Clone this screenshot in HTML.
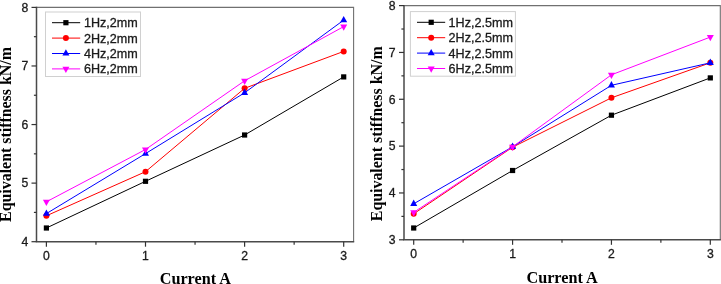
<!DOCTYPE html>
<html><head><meta charset="utf-8"><style>
html,body{margin:0;padding:0;background:#fff;}
body{width:721px;height:284px;overflow:hidden;}
svg{display:block;will-change:transform;filter:blur(0.35px);}
.tk{font-family:"Liberation Sans",sans-serif;font-size:12.2px;fill:#1a1a1a;stroke:#1a1a1a;stroke-width:0.3px;}
.lg{font-family:"Liberation Sans",sans-serif;font-size:12.6px;fill:#1a1a1a;stroke:#1a1a1a;stroke-width:0.3px;}
.tt{font-family:"Liberation Serif",serif;font-size:16.0px;font-weight:bold;fill:#000;}
</style></head><body>
<svg width="721" height="284" viewBox="0 0 721 284">
<rect width="721" height="284" fill="#fff"/>
<path d="M36.50,7.40 H353.60 V241.70" fill="none" stroke="#707070" stroke-width="1.1"/>
<path d="M36.50,6.80 V241.70 H354.20" fill="none" stroke="#4a4a4a" stroke-width="1.5"/>
<line x1="31.50" y1="241.70" x2="36.50" y2="241.70" stroke="#333333" stroke-width="1.2"/>
<text x="28.20" y="246.00" text-anchor="end" class="tk">4</text>
<line x1="33.90" y1="212.41" x2="36.50" y2="212.41" stroke="#333333" stroke-width="1.2"/>
<line x1="31.50" y1="183.12" x2="36.50" y2="183.12" stroke="#333333" stroke-width="1.2"/>
<text x="28.20" y="187.43" text-anchor="end" class="tk">5</text>
<line x1="33.90" y1="153.84" x2="36.50" y2="153.84" stroke="#333333" stroke-width="1.2"/>
<line x1="31.50" y1="124.55" x2="36.50" y2="124.55" stroke="#333333" stroke-width="1.2"/>
<text x="28.20" y="128.85" text-anchor="end" class="tk">6</text>
<line x1="33.90" y1="95.26" x2="36.50" y2="95.26" stroke="#333333" stroke-width="1.2"/>
<line x1="31.50" y1="65.97" x2="36.50" y2="65.97" stroke="#333333" stroke-width="1.2"/>
<text x="28.20" y="70.27" text-anchor="end" class="tk">7</text>
<line x1="33.90" y1="36.69" x2="36.50" y2="36.69" stroke="#333333" stroke-width="1.2"/>
<line x1="31.50" y1="7.40" x2="36.50" y2="7.40" stroke="#333333" stroke-width="1.2"/>
<text x="28.20" y="11.70" text-anchor="end" class="tk">8</text>
<line x1="46.40" y1="241.70" x2="46.40" y2="246.70" stroke="#333333" stroke-width="1.2"/>
<text x="46.40" y="259.90" text-anchor="middle" class="tk">0</text>
<line x1="95.95" y1="241.70" x2="95.95" y2="244.70" stroke="#333333" stroke-width="1.2"/>
<line x1="145.50" y1="241.70" x2="145.50" y2="246.70" stroke="#333333" stroke-width="1.2"/>
<text x="145.50" y="259.90" text-anchor="middle" class="tk">1</text>
<line x1="195.05" y1="241.70" x2="195.05" y2="244.70" stroke="#333333" stroke-width="1.2"/>
<line x1="244.60" y1="241.70" x2="244.60" y2="246.70" stroke="#333333" stroke-width="1.2"/>
<text x="244.60" y="259.90" text-anchor="middle" class="tk">2</text>
<line x1="294.15" y1="241.70" x2="294.15" y2="244.70" stroke="#333333" stroke-width="1.2"/>
<line x1="343.70" y1="241.70" x2="343.70" y2="246.70" stroke="#333333" stroke-width="1.2"/>
<text x="343.70" y="259.90" text-anchor="middle" class="tk">3</text>
<polyline points="46.40,228.00 145.50,181.30 244.60,135.00 343.70,76.90" fill="none" stroke="#000000" stroke-width="1.0"/>
<rect x="43.80" y="225.40" width="5.2" height="5.2" fill="#000000"/>
<rect x="142.90" y="178.70" width="5.2" height="5.2" fill="#000000"/>
<rect x="242.00" y="132.40" width="5.2" height="5.2" fill="#000000"/>
<rect x="341.10" y="74.30" width="5.2" height="5.2" fill="#000000"/>
<polyline points="46.40,215.80 145.50,171.70 244.60,88.30 343.70,51.40" fill="none" stroke="#ff0000" stroke-width="1.0"/>
<circle cx="46.40" cy="215.80" r="3.0" fill="#ff0000"/>
<circle cx="145.50" cy="171.70" r="3.0" fill="#ff0000"/>
<circle cx="244.60" cy="88.30" r="3.0" fill="#ff0000"/>
<circle cx="343.70" cy="51.40" r="3.0" fill="#ff0000"/>
<polyline points="46.40,213.60 145.50,153.60 244.60,92.80 343.70,20.10" fill="none" stroke="#0000ff" stroke-width="1.0"/>
<polygon points="42.90,215.70 49.90,215.70 46.40,209.40" fill="#0000ff"/>
<polygon points="142.00,155.70 149.00,155.70 145.50,149.40" fill="#0000ff"/>
<polygon points="241.10,94.90 248.10,94.90 244.60,88.60" fill="#0000ff"/>
<polygon points="340.20,22.20 347.20,22.20 343.70,15.90" fill="#0000ff"/>
<polyline points="46.40,201.80 145.50,149.50 244.60,80.80 343.70,26.60" fill="none" stroke="#ff00ff" stroke-width="1.0"/>
<polygon points="42.90,199.70 49.90,199.70 46.40,206.00" fill="#ff00ff"/>
<polygon points="142.00,147.40 149.00,147.40 145.50,153.70" fill="#ff00ff"/>
<polygon points="241.10,78.70 248.10,78.70 244.60,85.00" fill="#ff00ff"/>
<polygon points="340.20,24.50 347.20,24.50 343.70,30.80" fill="#ff00ff"/>
<rect x="45.50" y="12.00" width="95.00" height="64.50" fill="#fff" stroke="#d0d0d0" stroke-width="1"/>
<line x1="52.00" y1="22.70" x2="80.20" y2="22.70" stroke="#000000" stroke-width="1.0"/>
<rect x="63.30" y="20.10" width="5.2" height="5.2" fill="#000000"/>
<text x="83.90" y="27.10" class="lg">1Hz,2mm</text>
<line x1="52.00" y1="38.10" x2="80.20" y2="38.10" stroke="#ff0000" stroke-width="1.0"/>
<circle cx="65.90" cy="38.10" r="3.0" fill="#ff0000"/>
<text x="83.90" y="42.50" class="lg">2Hz,2mm</text>
<line x1="52.00" y1="53.50" x2="80.20" y2="53.50" stroke="#0000ff" stroke-width="1.0"/>
<polygon points="62.40,55.60 69.40,55.60 65.90,49.30" fill="#0000ff"/>
<text x="83.90" y="57.90" class="lg">4Hz,2mm</text>
<line x1="52.00" y1="68.90" x2="80.20" y2="68.90" stroke="#ff00ff" stroke-width="1.0"/>
<polygon points="62.40,66.80 69.40,66.80 65.90,73.10" fill="#ff00ff"/>
<text x="83.90" y="73.30" class="lg">6Hz,2mm</text>
<text x="195.30" y="284.10" text-anchor="middle" class="tt" style="font-size:16.2px">Current A</text>
<text transform="translate(11.40,134.50) rotate(-90)" text-anchor="middle" class="tt" style="font-size:15.9px">Equivalent stiffness kN/m</text>
<path d="M404.00,5.60 H720.30 V239.80" fill="none" stroke="#707070" stroke-width="1.1"/>
<path d="M404.00,5.00 V239.80 H720.90" fill="none" stroke="#4a4a4a" stroke-width="1.5"/>
<line x1="399.00" y1="239.80" x2="404.00" y2="239.80" stroke="#333333" stroke-width="1.2"/>
<text x="395.60" y="244.10" text-anchor="end" class="tk">3</text>
<line x1="401.40" y1="216.38" x2="404.00" y2="216.38" stroke="#333333" stroke-width="1.2"/>
<line x1="399.00" y1="192.96" x2="404.00" y2="192.96" stroke="#333333" stroke-width="1.2"/>
<text x="395.60" y="197.26" text-anchor="end" class="tk">4</text>
<line x1="401.40" y1="169.54" x2="404.00" y2="169.54" stroke="#333333" stroke-width="1.2"/>
<line x1="399.00" y1="146.12" x2="404.00" y2="146.12" stroke="#333333" stroke-width="1.2"/>
<text x="395.60" y="150.42" text-anchor="end" class="tk">5</text>
<line x1="401.40" y1="122.70" x2="404.00" y2="122.70" stroke="#333333" stroke-width="1.2"/>
<line x1="399.00" y1="99.28" x2="404.00" y2="99.28" stroke="#333333" stroke-width="1.2"/>
<text x="395.60" y="103.58" text-anchor="end" class="tk">6</text>
<line x1="401.40" y1="75.86" x2="404.00" y2="75.86" stroke="#333333" stroke-width="1.2"/>
<line x1="399.00" y1="52.44" x2="404.00" y2="52.44" stroke="#333333" stroke-width="1.2"/>
<text x="395.60" y="56.74" text-anchor="end" class="tk">7</text>
<line x1="401.40" y1="29.02" x2="404.00" y2="29.02" stroke="#333333" stroke-width="1.2"/>
<line x1="399.00" y1="5.60" x2="404.00" y2="5.60" stroke="#333333" stroke-width="1.2"/>
<text x="395.60" y="9.90" text-anchor="end" class="tk">8</text>
<line x1="413.70" y1="239.80" x2="413.70" y2="244.80" stroke="#333333" stroke-width="1.2"/>
<text x="413.70" y="257.60" text-anchor="middle" class="tk">0</text>
<line x1="463.13" y1="239.80" x2="463.13" y2="242.80" stroke="#333333" stroke-width="1.2"/>
<line x1="512.57" y1="239.80" x2="512.57" y2="244.80" stroke="#333333" stroke-width="1.2"/>
<text x="512.57" y="257.60" text-anchor="middle" class="tk">1</text>
<line x1="562.00" y1="239.80" x2="562.00" y2="242.80" stroke="#333333" stroke-width="1.2"/>
<line x1="611.44" y1="239.80" x2="611.44" y2="244.80" stroke="#333333" stroke-width="1.2"/>
<text x="611.44" y="257.60" text-anchor="middle" class="tk">2</text>
<line x1="660.88" y1="239.80" x2="660.88" y2="242.80" stroke="#333333" stroke-width="1.2"/>
<line x1="710.31" y1="239.80" x2="710.31" y2="244.80" stroke="#333333" stroke-width="1.2"/>
<text x="710.31" y="257.60" text-anchor="middle" class="tk">3</text>
<polyline points="413.70,228.00 512.57,170.50 611.44,115.20 710.31,77.90" fill="none" stroke="#000000" stroke-width="1.0"/>
<rect x="411.10" y="225.40" width="5.2" height="5.2" fill="#000000"/>
<rect x="509.97" y="167.90" width="5.2" height="5.2" fill="#000000"/>
<rect x="608.84" y="112.60" width="5.2" height="5.2" fill="#000000"/>
<rect x="707.71" y="75.30" width="5.2" height="5.2" fill="#000000"/>
<polyline points="413.70,213.80 512.57,147.20 611.44,97.80 710.31,62.80" fill="none" stroke="#ff0000" stroke-width="1.0"/>
<circle cx="413.70" cy="213.80" r="3.0" fill="#ff0000"/>
<circle cx="512.57" cy="147.20" r="3.0" fill="#ff0000"/>
<circle cx="611.44" cy="97.80" r="3.0" fill="#ff0000"/>
<circle cx="710.31" cy="62.80" r="3.0" fill="#ff0000"/>
<polyline points="413.70,203.80 512.57,146.80 611.44,85.30 710.31,62.80" fill="none" stroke="#0000ff" stroke-width="1.0"/>
<polygon points="410.20,205.90 417.20,205.90 413.70,199.60" fill="#0000ff"/>
<polygon points="509.07,148.90 516.07,148.90 512.57,142.60" fill="#0000ff"/>
<polygon points="607.94,87.40 614.94,87.40 611.44,81.10" fill="#0000ff"/>
<polygon points="706.81,64.90 713.81,64.90 710.31,58.60" fill="#0000ff"/>
<polyline points="413.70,212.40 512.57,146.80 611.44,74.80 710.31,37.10" fill="none" stroke="#ff00ff" stroke-width="1.0"/>
<polygon points="410.20,210.30 417.20,210.30 413.70,216.60" fill="#ff00ff"/>
<polygon points="509.07,144.70 516.07,144.70 512.57,151.00" fill="#ff00ff"/>
<polygon points="607.94,72.70 614.94,72.70 611.44,79.00" fill="#ff00ff"/>
<polygon points="706.81,35.00 713.81,35.00 710.31,41.30" fill="#ff00ff"/>
<rect x="410.40" y="11.60" width="105.00" height="64.60" fill="#fff" stroke="#d0d0d0" stroke-width="1"/>
<line x1="417.00" y1="22.30" x2="445.20" y2="22.30" stroke="#000000" stroke-width="1.0"/>
<rect x="428.60" y="19.70" width="5.2" height="5.2" fill="#000000"/>
<text x="448.60" y="26.70" class="lg">1Hz,2.5mm</text>
<line x1="417.00" y1="37.70" x2="445.20" y2="37.70" stroke="#ff0000" stroke-width="1.0"/>
<circle cx="431.20" cy="37.70" r="3.0" fill="#ff0000"/>
<text x="448.60" y="42.10" class="lg">2Hz,2.5mm</text>
<line x1="417.00" y1="53.10" x2="445.20" y2="53.10" stroke="#0000ff" stroke-width="1.0"/>
<polygon points="427.70,55.20 434.70,55.20 431.20,48.90" fill="#0000ff"/>
<text x="448.60" y="57.50" class="lg">4Hz,2.5mm</text>
<line x1="417.00" y1="68.50" x2="445.20" y2="68.50" stroke="#ff00ff" stroke-width="1.0"/>
<polygon points="427.70,66.40 434.70,66.40 431.20,72.70" fill="#ff00ff"/>
<text x="448.60" y="72.90" class="lg">6Hz,2.5mm</text>
<text x="562.10" y="283.10" text-anchor="middle" class="tt" style="font-size:16.2px">Current A</text>
<text transform="translate(382.40,133.80) rotate(-90)" text-anchor="middle" class="tt" style="font-size:15.9px">Equivalent stiffness kN/m</text>
</svg>
</body></html>
